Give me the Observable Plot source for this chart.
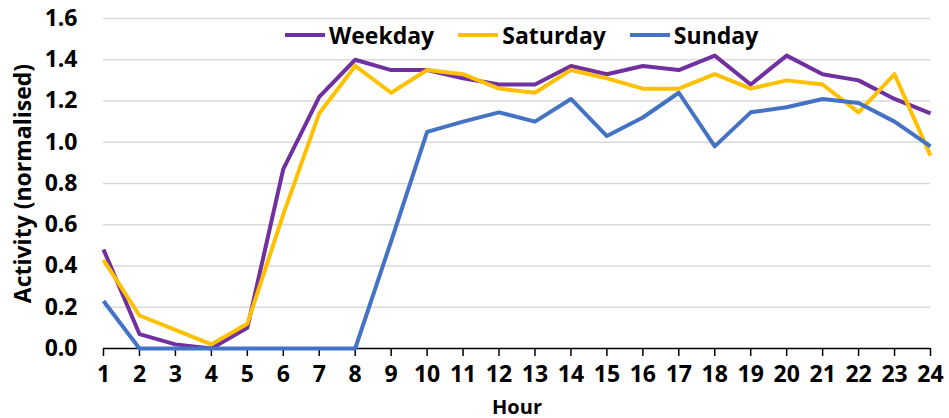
<!DOCTYPE html>
<html>
<head>
<meta charset="utf-8">
<script src="https://cdn.jsdelivr.net/npm/d3@7"></script>
<script src="https://cdn.jsdelivr.net/npm/@observablehq/plot@0.6"></script>
<style>
  body { margin: 0; background: #fff; }
  #wrap { position: relative; width: 949px; height: 418px; overflow: hidden; font-family: "Open Sans", sans-serif; }
  #legend { position: absolute; top: 18px; left: 285px; display: flex; align-items: center; height: 34px; font-weight: bold; font-size: 23px; color: #000; }
  .item { display: flex; align-items: center; margin-right: 24px; }
  .sw { width: 40px; height: 4px; margin-right: 4px; }
</style>
</head>
<body>
<div id="wrap"></div>
<script>
const hours = [1,2,3,4,5,6,7,8,9,10,11,12,13,14,15,16,17,18,19,20,21,22,23,24];
const seriesNames = ["Weekday", "Saturday", "Sunday"];
const seriesColors = ["#7030A0", "#FFC000", "#4472C4"];
const weekday  = [0.48,0.07,0.02,0.00,0.10,0.87,1.22,1.40,1.35,1.35,1.31,1.28,1.28,1.37,1.33,1.37,1.35,1.42,1.28,1.42,1.33,1.30,1.21,1.14];
const saturday = [0.43,0.16,0.09,0.02,0.12,0.65,1.14,1.37,1.24,1.35,1.33,1.26,1.24,1.35,1.31,1.26,1.26,1.33,1.26,1.30,1.28,1.145,1.33,0.935];
const sunday   = [0.23,0.00,0.00,0.00,0.00,0.00,0.00,0.00,0.52,1.05,1.10,1.145,1.10,1.21,1.03,1.12,1.24,0.98,1.145,1.17,1.21,1.19,1.10,0.98];
const yTicks = [0,0.2,0.4,0.6,0.8,1.0,1.2,1.4,1.6];

const seriesValues = [weekday, saturday, sunday];
const data = [];
seriesNames.forEach((name, i) => {
  hours.forEach((h, j) => data.push({hour: h, value: seriesValues[i][j], series: name}));
});

const chart = Plot.plot({
  width: 949,
  height: 418,
  marginLeft: 103,
  marginRight: 19,
  marginTop: 18,
  marginBottom: 70,
  style: {fontFamily: "'Open Sans', sans-serif", fontSize: "23px", fontWeight: "bold", color: "#000", background: "#fff", overflow: "visible"},
  x: {domain: [1, 24], label: null},
  y: {domain: [0, 1.6], label: null},
  color: {domain: seriesNames, range: seriesColors},
  marks: [
    Plot.gridY(yTicks.filter(d => d > 0), {stroke: "#d9d9d9", strokeOpacity: 1, strokeWidth: 1.5}),
    Plot.axisY(yTicks, {tickSize: 0, tickPadding: 26, tickFormat: d3.format(".1f"), label: "Activity (normalised)", labelAnchor: "center", labelArrow: "none", labelOffset: 89}),
    Plot.axisX(hours, {tickSize: 8, tickPadding: 9, tickFormat: d => String(d), stroke: "#000", strokeWidth: 1.5, strokeOpacity: 1, label: null}),
    Plot.axisX([], {label: "Hour", labelAnchor: "center", labelArrow: "none", labelOffset: 65, fontSize: 20, tickSize: 0}),
    Plot.ruleY([0], {stroke: "#000", strokeWidth: 1.5}),
    Plot.line(data, {x: "hour", y: "value", z: "series", stroke: "series", strokeWidth: 4, strokeLinecap: "butt", strokeLinejoin: "round"})
  ]
});
const wrap = document.getElementById("wrap");
wrap.appendChild(chart);

const legend = document.createElement("div");
legend.id = "legend";
seriesNames.forEach((name, i) => {
  const item = document.createElement("div");
  item.className = "item";
  const sw = document.createElement("span");
  sw.className = "sw";
  sw.style.background = seriesColors[i];
  const label = document.createElement("span");
  label.textContent = name;
  item.appendChild(sw);
  item.appendChild(label);
  legend.appendChild(item);
});
wrap.appendChild(legend);
</script>
</body>
</html>
